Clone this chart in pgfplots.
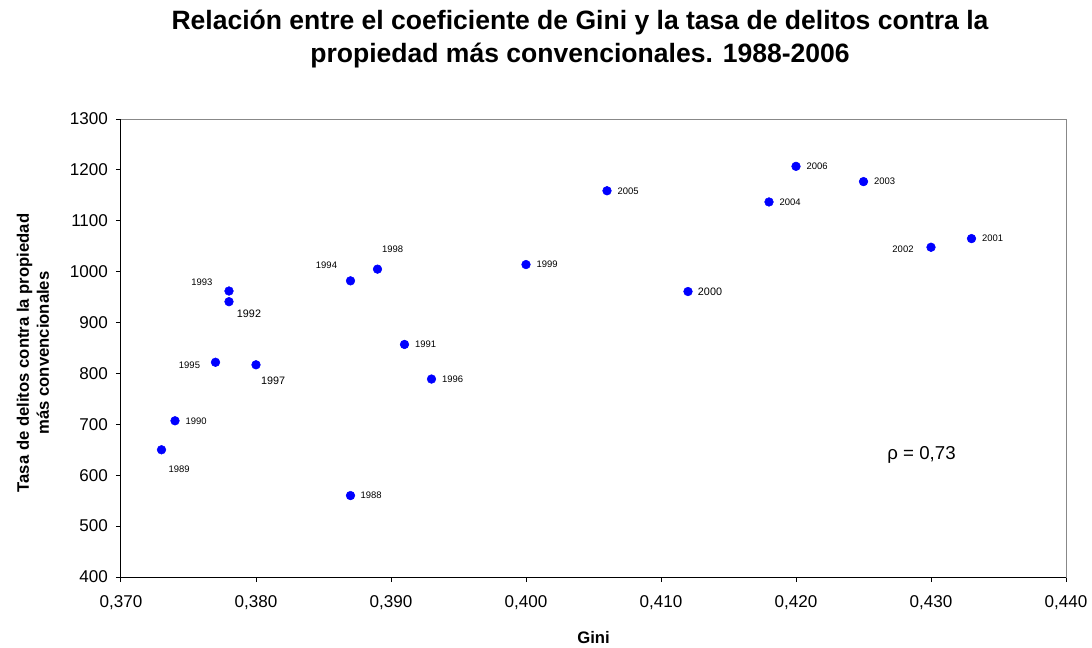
\documentclass[border=0pt]{standalone}
\usepackage{fontspec}
\setmainfont{Liberation Sans}
\usepackage{pgfplots}
\pgfplotsset{compat=1.18}
\usepackage{pgfplotstable}
\definecolor{bordergray}{RGB}{136,136,136}
\pgfplotstableread{
x y
0.387 560
0.373 650
0.374 707
0.391 857
0.378 941
0.378 962
0.387 982
0.377 822
0.393 789
0.380 817
0.389 1005
0.400 1014
0.412 961
0.433 1065
0.430 1048
0.425 1177
0.418 1137
0.406 1159
0.420 1207
}\datatable
\newcommand\lab[5]{\node[anchor=center, inner sep=0pt, xshift=#3pt, yshift=#4pt, font=\fontsize{#5}{#5}\selectfont] at (axis cs:#1) {#2};}
\begin{document}
\begin{tikzpicture}
\begin{axis}[
  scale only axis, width=708.75pt, height=343.5pt,
  xmin=0.37, xmax=0.44, ymin=400, ymax=1300,
  xtick={0.37,0.38,0.39,0.40,0.41,0.42,0.43,0.44},
  ytick={400,500,...,1300},
  scaled x ticks=false, scaled y ticks=false,
  xtick pos=bottom, ytick pos=left, tick align=outside,
  major tick length=3.75pt,
  tick style={black, line width=0.75pt},
  axis line style={draw=bordergray, line width=0.75pt},
  /pgf/number format/assume math mode=true,
  xticklabel style={font=\fontsize{12.8}{15}\selectfont, yshift=-7pt, /pgf/number format/.cd, fixed, fixed zerofill, precision=3, use comma},
  yticklabel style={font=\fontsize{12.8}{15}\selectfont, xshift=-2.5pt, /pgf/number format/.cd, 1000 sep={}},
  clip=false,
]
\addplot[color=blue, only marks, mark=*, mark size=3.25pt, mark options={draw=blue, fill=blue}] table[x=x, y=y] {\datatable};
\lab{0.387,560}{1988}{15.4}{0}{7.1}
\lab{0.373,650}{1989}{13.3}{-14.5}{7.1}
\lab{0.374,707}{1990}{15.8}{0}{7.1}
\lab{0.391,857}{1991}{15.8}{0}{7.1}
\lab{0.378,941}{1992}{15.0}{-8.8}{8.1}
\lab{0.378,962}{1993}{-20.3}{6.5}{7.1}
\lab{0.387,982}{1994}{-18.0}{11.5}{7.1}
\lab{0.377,822}{1995}{-19.5}{-2.0}{7.1}
\lab{0.393,789}{1996}{15.8}{0}{7.1}
\lab{0.380,817}{1997}{12.8}{-12.2}{8.1}
\lab{0.389,1005}{1998}{11.3}{14.8}{7.1}
\lab{0.400,1014}{1999}{15.8}{0}{7.1}
\lab{0.412,961}{2000}{16.5}{0}{8.1}
\lab{0.433,1065}{2001}{15.8}{0}{7.1}
\lab{0.430,1048}{2002}{-21.0}{-1.5}{7.1}
\lab{0.425,1177}{2003}{15.8}{0}{7.1}
\lab{0.418,1137}{2004}{15.8}{0}{7.1}
\lab{0.406,1159}{2005}{15.8}{0}{7.1}
\lab{0.420,1207}{2006}{15.8}{0}{7.1}
\node[anchor=center, font=\fontsize{14}{16}\selectfont] at (axis cs:0.4293,640) {ρ = 0,73};
\draw[black, line width=0.75pt] (rel axis cs:0,1) -- (rel axis cs:0,0) -- (rel axis cs:1,0);
\coordinate (SW) at (rel axis cs:0,0);
\coordinate (WL) at (rel axis cs:0,0.5);
\coordinate (SC) at (rel axis cs:0.5,0);
\end{axis}
\node[anchor=base, font=\bfseries\fontsize{19.9}{24}\selectfont] at ([shift={(344.25pt,410.25pt)}]SW) {Relación entre el coeficiente de Gini y la tasa de delitos contra la};
\node[anchor=base, font=\bfseries\fontsize{19.9}{24}\selectfont] at ([shift={(344.25pt,385.5pt)}]SW) {propiedad más convencionales. 1988-2006};
\node[anchor=base, font=\bfseries\fontsize{12.5}{15}\selectfont] at ([shift={(0pt,-49.5pt)}]SC) {Gini};
\node[rotate=90, align=center, font=\bfseries\fontsize{12.5}{15}\selectfont] at ([shift={(-66pt,-3.75pt)}]WL) {Tasa de delitos contra la propiedad\\más convencionales};
\pgfresetboundingbox
\path ([shift={(-90.75pt,-52.5pt)}]SW) rectangle ([shift={(728.25pt,432.75pt)}]SW);
\end{tikzpicture}
\end{document}
